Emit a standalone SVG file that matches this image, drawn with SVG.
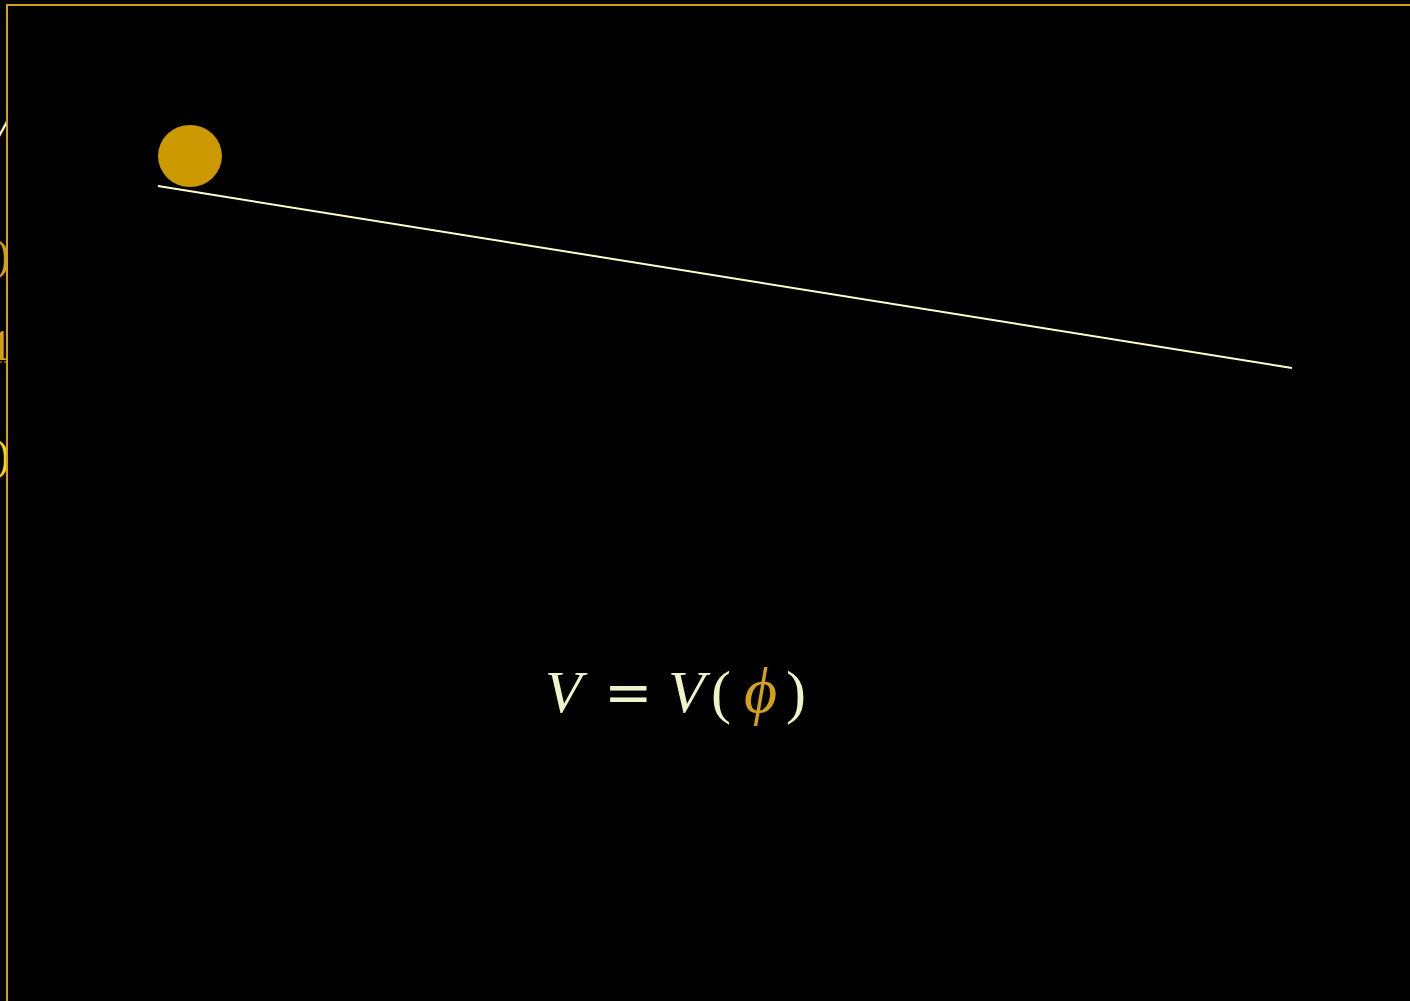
<svg xmlns="http://www.w3.org/2000/svg" width="1410" height="1001" viewBox="0 0 1410 1001">
<defs>
<style>
.frame{fill:none;stroke:#d4a017;stroke-width:2}
.ball{fill:#cc9900}
.slope{stroke:#ffffcc;stroke-width:2;fill:none}
.math{font-family:"Liberation Serif","DejaVu Serif",serif;font-size:60px;fill:#f2f2c8}
.it{font-style:italic}
.eq{font-family:"DejaVu Serif",serif;font-size:58px}
.phi{fill:#d4a017;font-style:italic;font-size:64px}
.frag{font-family:"Liberation Serif",serif;font-size:44px}
</style>
<clipPath id="left"><rect x="0" y="0" width="7" height="1001"/></clipPath>
</defs>
<rect x="0" y="0" width="1410" height="1001" fill="#000"/>
<g id="fragments" clip-path="url(#left)">
<text class="frag it" x="12" y="140" text-anchor="end" fill="#ffffcc">V</text>
<text class="frag" x="10" y="270" text-anchor="end" fill="#d4a017">)</text>
<text class="frag" x="12" y="360" text-anchor="end" fill="#d4a017">1</text>
<line x1="0" y1="362" x2="7" y2="362" stroke="#d4a017" stroke-width="1" stroke-dasharray="2 2"/>
<text class="frag" x="10" y="470" text-anchor="end" fill="#ffd21a">)</text>
</g>
<rect id="frame" class="frame" x="7" y="5" width="1420" height="1010"/>
<g id="connectors">
<line class="slope" x1="158" y1="186" x2="1292" y2="368"/>
</g>
<g id="ball">
<ellipse class="ball" cx="190" cy="156" rx="32" ry="31"/>
</g>
<g id="formula">
<text class="math" y="712"><tspan class="it" x="545">V</tspan><tspan class="eq" x="604">=</tspan><tspan class="it" x="668">V</tspan><tspan x="711">(</tspan><tspan class="phi" x="744">ϕ</tspan><tspan x="786">)</tspan></text>
</g>
</svg>
